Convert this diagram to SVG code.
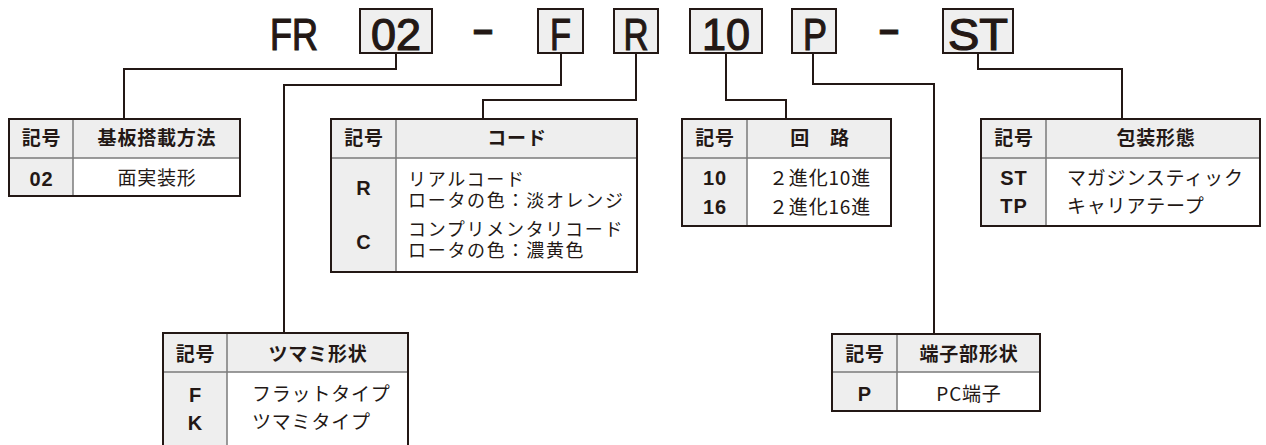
<svg xmlns="http://www.w3.org/2000/svg" width="1266" height="445" viewBox="0 0 1266 445">
<style>
.code{fill:#efefef;stroke:#231815;stroke-width:2}
.ct{font-family:"Liberation Sans","Noto Sans CJK JP",sans-serif;font-size:44px;fill:#231815;stroke:#231815;stroke-width:1.2;text-anchor:middle}
.dash{font-family:"Liberation Sans",sans-serif;font-weight:bold;font-size:40px;fill:#231815;stroke:#231815;stroke-width:0.8;text-anchor:middle}
.conn{fill:none;stroke:#231815;stroke-width:2}
.grey{fill:#eeeeee}
.white{fill:#ffffff}
.outer{fill:none;stroke:#231815;stroke-width:2}
.inner{stroke:#7a7a7a;stroke-width:1.5}
.h{font-family:"Noto Sans CJK JP",sans-serif;font-weight:bold;font-size:19px;letter-spacing:0.8px;fill:#231815;text-anchor:middle}
.k{font-family:"Liberation Sans","Noto Sans CJK JP",sans-serif;font-weight:bold;font-size:20px;letter-spacing:1px;fill:#231815;text-anchor:middle}
.b{font-family:"Noto Sans CJK JP",sans-serif;font-size:19px;letter-spacing:0.8px;fill:#231815}
.b2{font-family:"Noto Sans CJK JP",sans-serif;font-size:18px;letter-spacing:1.7px;fill:#231815}
.bc{text-anchor:middle}
</style>
<rect width="1266" height="445" fill="#ffffff"/>
<g id="code">
<text class="ct" x="294" y="50" textLength="48" lengthAdjust="spacingAndGlyphs">FR</text>
<rect class="code" x="360" y="9" width="72" height="44"/>
<text class="ct" x="396" y="50" textLength="50" lengthAdjust="spacingAndGlyphs">02</text>
<text class="dash" x="483" y="43" textLength="20" lengthAdjust="spacingAndGlyphs">–</text>
<rect class="code" x="538" y="9" width="45" height="44"/>
<text class="ct" x="560.5" y="50" textLength="21" lengthAdjust="spacingAndGlyphs">F</text>
<rect class="code" x="614" y="9" width="44" height="44"/>
<text class="ct" x="636" y="50" textLength="25" lengthAdjust="spacingAndGlyphs">R</text>
<rect class="code" x="690" y="9" width="72" height="44"/>
<text class="ct" x="726" y="50" textLength="48" lengthAdjust="spacingAndGlyphs">10</text>
<rect class="code" x="792" y="9" width="44" height="44"/>
<text class="ct" x="815" y="50" textLength="24" lengthAdjust="spacingAndGlyphs">P</text>
<text class="dash" x="889" y="43" textLength="20" lengthAdjust="spacingAndGlyphs">–</text>
<rect class="code" x="943" y="9" width="70" height="44"/>
<text class="ct" x="978" y="50" textLength="60" lengthAdjust="spacingAndGlyphs">ST</text>
</g>
<g id="connectors">
<polyline class="conn" points="396,53 396,69 124,69 124,119"/>
<polyline class="conn" points="561,53 561,85 284,85 284,333"/>
<polyline class="conn" points="636,53 636,100 483,100 483,119"/>
<polyline class="conn" points="726,53 726,100 786,100 786,119"/>
<polyline class="conn" points="813,53 813,84 934,84 934,334"/>
<polyline class="conn" points="978,53 978,69 1122,69 1122,119"/>
</g>
<g id="table-mount">
<rect class="grey" x="9" y="119" width="231" height="39"/>
<rect class="grey" x="9" y="158" width="64" height="38"/>
<rect class="white" x="73" y="158" width="167" height="38"/>
<line class="inner" x1="73" y1="119" x2="73" y2="196"/>
<line class="inner" x1="9" y1="158" x2="240" y2="158"/>
<rect class="outer" x="9" y="119" width="231" height="77"/>
<text class="h" x="41.5" y="145">記号</text>
<text class="h" x="157" y="145">基板搭載方法</text>
<text class="k" x="41.5" y="186">02</text>
<text class="b bc" x="157" y="185">面実装形</text>
</g>
<g id="table-code">
<rect class="grey" x="331" y="119" width="306" height="39"/>
<rect class="grey" x="331" y="158" width="65" height="114"/>
<rect class="white" x="396" y="158" width="241" height="114"/>
<line class="inner" x1="396" y1="119" x2="396" y2="272"/>
<line class="inner" x1="331" y1="158" x2="637" y2="158"/>
<rect class="outer" x="331" y="119" width="306" height="153"/>
<text class="h" x="364" y="145">記号</text>
<text class="h" x="517" y="145">コード</text>
<text class="k" x="364" y="195">R</text>
<text class="k" x="364" y="249">C</text>
<text class="b2" x="408" y="186">リアルコード</text>
<text class="b2" x="408" y="207">ロータの色：淡オレンジ</text>
<text class="b2" x="408" y="236">コンプリメンタリコード</text>
<text class="b2" x="408" y="257">ロータの色：濃黄色</text>
</g>
<g id="table-circuit">
<rect class="grey" x="682" y="119" width="209" height="39"/>
<rect class="grey" x="682" y="158" width="65" height="68"/>
<rect class="white" x="747" y="158" width="144" height="68"/>
<line class="inner" x1="747" y1="119" x2="747" y2="226"/>
<line class="inner" x1="682" y1="158" x2="891" y2="158"/>
<rect class="outer" x="682" y="119" width="209" height="107"/>
<text class="h" x="715" y="145">記号</text>
<text class="h" x="820" y="145">回　路</text>
<text class="k" x="715" y="185">10</text>
<text class="k" x="715" y="214">16</text>
<text class="b bc" x="820" y="185">２進化10進</text>
<text class="b bc" x="820" y="214">２進化16進</text>
</g>
<g id="table-package">
<rect class="grey" x="981" y="119" width="279" height="39"/>
<rect class="grey" x="981" y="158" width="65" height="68"/>
<rect class="white" x="1046" y="158" width="214" height="68"/>
<line class="inner" x1="1046" y1="119" x2="1046" y2="226"/>
<line class="inner" x1="981" y1="158" x2="1260" y2="158"/>
<rect class="outer" x="981" y="119" width="279" height="107"/>
<text class="h" x="1014" y="145">記号</text>
<text class="h" x="1156" y="145">包装形態</text>
<text class="k" x="1014" y="185">ST</text>
<text class="k" x="1014" y="213">TP</text>
<text class="b" x="1067" y="185">マガジンスティック</text>
<text class="b" x="1067" y="213">キャリアテープ</text>
</g>
<g id="table-knob">
<rect class="grey" x="163" y="333" width="245" height="39"/>
<rect class="grey" x="163" y="372" width="64" height="76"/>
<rect class="white" x="227" y="372" width="181" height="76"/>
<line class="inner" x1="227" y1="333" x2="227" y2="448"/>
<line class="inner" x1="163" y1="372" x2="408" y2="372"/>
<rect class="outer" x="163" y="333" width="245" height="115"/>
<text class="h" x="195.5" y="361">記号</text>
<text class="h" x="318" y="361">ツマミ形状</text>
<text class="k" x="195.5" y="402">F</text>
<text class="k" x="195.5" y="430">K</text>
<text class="b" x="252" y="401">フラットタイプ</text>
<text class="b" x="252" y="429">ツマミタイプ</text>
</g>
<g id="table-terminal">
<rect class="grey" x="832" y="334" width="208" height="38"/>
<rect class="grey" x="832" y="372" width="65" height="39"/>
<rect class="white" x="897" y="372" width="143" height="39"/>
<line class="inner" x1="897" y1="334" x2="897" y2="411"/>
<line class="inner" x1="832" y1="372" x2="1040" y2="372"/>
<rect class="outer" x="832" y="334" width="208" height="77"/>
<text class="h" x="865" y="361">記号</text>
<text class="h" x="969" y="361">端子部形状</text>
<text class="k" x="865" y="401">P</text>
<text class="b bc" x="969" y="401">PC端子</text>
</g>
</svg>
